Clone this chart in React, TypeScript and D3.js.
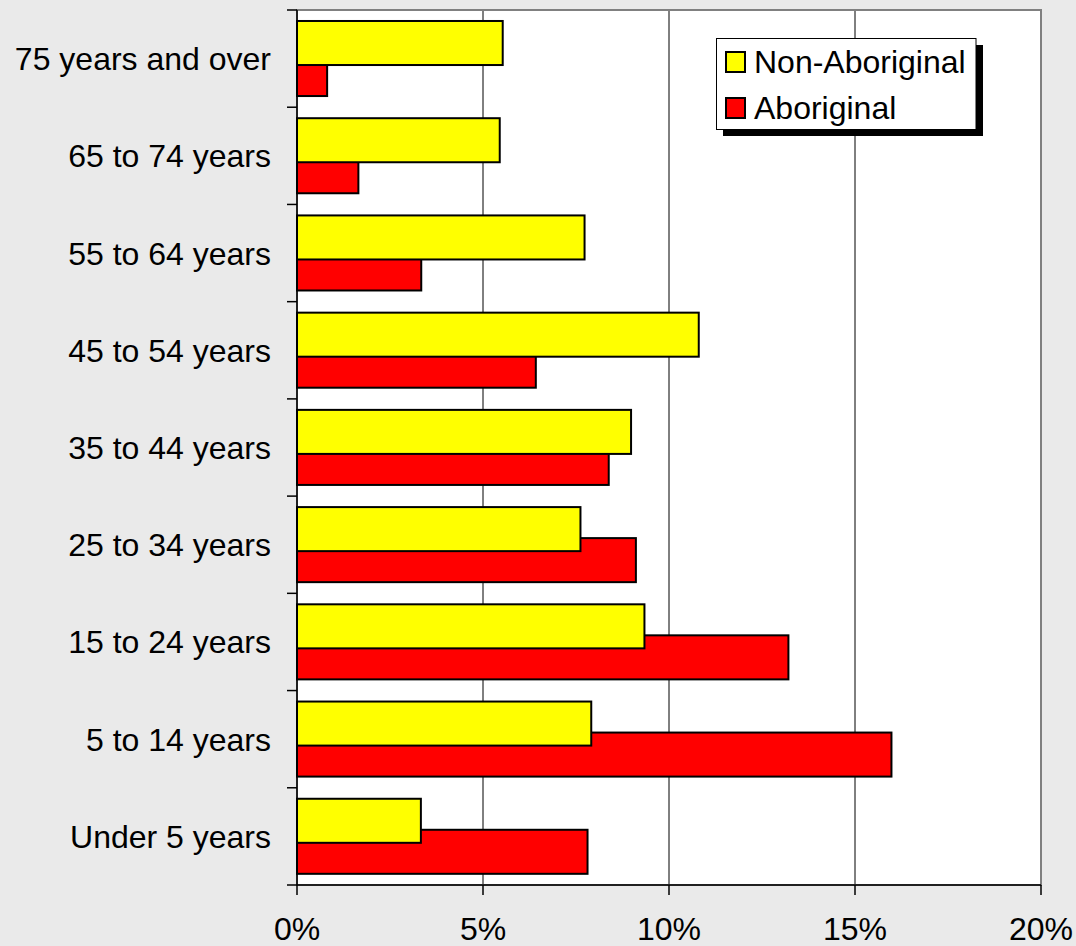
import React from "react";
import * as d3 from "d3";

const categories = [
  "75 years and over",
  "65 to 74 years",
  "55 to 64 years",
  "45 to 54 years",
  "35 to 44 years",
  "25 to 34 years",
  "15 to 24 years",
  "5 to 14 years",
  "Under 5 years",
];
const nonAboriginal = [5.53, 5.45, 7.73, 10.8, 8.98, 7.62, 9.34, 7.91, 3.33];
const aboriginal = [0.81, 1.65, 3.34, 6.42, 8.38, 9.11, 13.21, 15.98, 7.81];
const xTicks = [0, 5, 10, 15, 20];
const seriesNames = ["Non-Aboriginal", "Aboriginal"];
const seriesColors = ["#ffff00", "#ff0000"];

const W = 1076;
const H = 946;
const left = 297;
const right = 1041;
const top = 10;
const bottom = 885;
const FONT = "'Liberation Sans', Arial, sans-serif";
const FS = 32;

export default function App() {
  const x = d3.scaleLinear().domain([0, 20]).range([left, right]);
  const y = d3.scaleBand<string>().domain(categories).range([top, bottom]).padding(0);
  const bw = y.bandwidth();
  const barH = bw * 0.453;
  const offs = [bw * 0.113, bw * 0.432];
  const series = [nonAboriginal, aboriginal];

  return (
    <svg
      width={W}
      height={H}
      style={{ position: "absolute", left: 0, top: 0, fontFamily: FONT }}
    >
      <rect x={0} y={0} width={W} height={H} fill="#eaeaea" />
      <rect x={left} y={top} width={right - left} height={bottom - top} fill="#ffffff" />
      {xTicks.slice(1, -1).map((t) => (
        <line key={t} x1={x(t)} x2={x(t)} y1={top} y2={bottom} stroke="#000" strokeWidth={1} />
      ))}
      <rect
        x={left}
        y={top}
        width={right - left}
        height={bottom - top}
        fill="none"
        stroke="#808080"
        strokeWidth={2}
      />
      {[1, 0].map((s) =>
        categories.map((c, i) => (
          <rect
            key={`${s}-${c}`}
            x={x(0)}
            y={(y(c) as number) + offs[s]}
            width={x(series[s][i]) - x(0)}
            height={barH}
            fill={seriesColors[s]}
            stroke="#000"
            strokeWidth={2}
          />
        ))
      )}
      <line x1={left} x2={left} y1={top} y2={bottom} stroke="#000" strokeWidth={1.5} />
      <line x1={left} x2={right} y1={bottom} y2={bottom} stroke="#000" strokeWidth={1.5} />
      {categories.map((c) => (
        <line key={"t" + c} x1={left - 10} x2={left} y1={y(c) as number} y2={y(c) as number} stroke="#000" strokeWidth={1.5} />
      ))}
      <line x1={left - 10} x2={left} y1={bottom} y2={bottom} stroke="#000" strokeWidth={1.5} />
      {xTicks.map((t) => (
        <g key={"x" + t}>
          <line x1={x(t)} x2={x(t)} y1={bottom} y2={bottom + 10} stroke="#000" strokeWidth={1.5} />
          <text x={x(t)} y={940} textAnchor="middle" fontSize={FS} fill="#000">
            {t}%
          </text>
        </g>
      ))}
      {categories.map((c) => (
        <text
          key={"l" + c}
          x={271}
          y={(y(c) as number) + bw / 2 + 11.5}
          textAnchor="end"
          fontSize={FS}
          fill="#000"
        >
          {c}
        </text>
      ))}
      <g>
        <rect x={723} y={45} width={260} height={91} fill="#000" />
        <rect x={716.5} y={38.5} width={259.5} height={91} fill="#fff" stroke="#000" strokeWidth={1} />
        {seriesNames.map((n, i) => (
          <g key={n}>
            <rect
              x={726}
              y={52 + i * 46}
              width={19}
              height={20}
              fill={seriesColors[i]}
              stroke="#000"
              strokeWidth={2}
            />
            <text x={754} y={73 + i * 45.5} fontSize={FS} fill="#000">
              {n}
            </text>
          </g>
        ))}
      </g>
    </svg>
  );
}
